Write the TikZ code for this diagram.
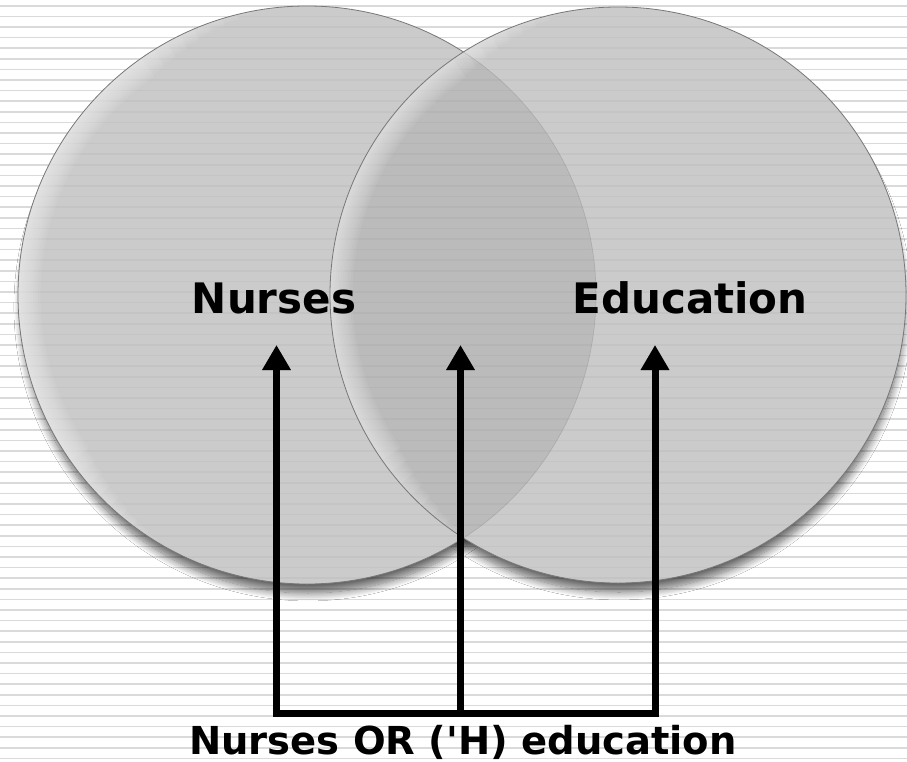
\documentclass[tikz,border=0pt]{standalone}
\usepackage{fontspec}
\setmainfont{DejaVu Sans}[Ligatures=TeXOff]
\usetikzlibrary{arrows.meta,shadows.blur}
\definecolor{circfill}{RGB}{203,203,203}
\definecolor{overfill}{RGB}{187,187,187}
\definecolor{circedge}{RGB}{120,120,120}
\definecolor{stripe}{RGB}{218,218,218}
\tikzset{
  vennshadow/.style={blur shadow={shadow scale=0.99, shadow xshift=1pt, shadow yshift=-12pt, shadow blur steps=14, shadow opacity=60, shadow blur radius=8pt}},
  vennfill/.style={fill=circfill},
  vennedge/.style={draw=circedge, line width=0.8pt},
  glow/.style={draw=white, opacity=0.07},
  lbl/.style={font=\bfseries\fontsize{42}{48}\selectfont, text=black, inner sep=0pt},
  qlbl/.style={font=\bfseries\fontsize{38.5}{44}\selectfont, text=black, inner sep=0pt},
  conn/.style={line width=7pt, draw=black, line join=miter},
  tip/.style={-{Triangle[width=27pt,length=25pt]}},
  tips/.style={{Triangle[width=27pt,length=25pt]}-{Triangle[width=27pt,length=25pt]}},
  connshadow/.style={line width=7pt, draw=black, opacity=0.25, line join=miter}
}
\begin{document}
\begin{tikzpicture}[x=1pt,y=-1pt]
\useasboundingbox (0,0) rectangle (907,762);
\fill[white] (0,0) rectangle (907,762);
\foreach \i in {0,...,72} {
  \fill[stripe] (0,{5+10.6*\i}) rectangle (907,{6.6+10.6*\i});
}
% shadows
\path[vennshadow] (307,295) circle[radius=289];
\path[vennshadow] (618,295) circle[radius=288];
% circles
\fill[vennfill] (307,295) circle[radius=289];
\fill[vennfill] (618,295) circle[radius=288];
\begin{scope}
  \clip (307,295) circle[radius=289];
  \fill[overfill] (618,295) circle[radius=288];
\end{scope}
% faint stripes inside circles
\begin{scope}
  \clip (307,295) circle[radius=289] (618,295) circle[radius=288];
  \foreach \i in {0,...,72} {
    \fill[black, opacity=0.03] (0,{5+10.6*\i}) rectangle (907,{6.6+10.6*\i});
  }
\end{scope}
% inner glow, left circle
\begin{scope}
  \clip (307,295) circle[radius=289];
  \foreach \k in {1,...,9} {
    \draw[glow, line width=5*\k pt] (307,295) ++({118+3*\k}:289) arc[start angle={118+3*\k}, end angle={262-3*\k}, radius=289];
  }
\end{scope}
% inner glow, right circle
\begin{scope}
  \clip (618,295) circle[radius=288];
  \foreach \k in {1,...,9} {
    \draw[glow, line width=5*\k pt] (618,295) ++({118+3*\k}:288) arc[start angle={118+3*\k}, end angle={262-3*\k}, radius=288];
  }
\end{scope}
% edges
\draw[vennedge] (618,295) circle[radius=288];
\begin{scope}[even odd rule]
  \clip (0,0) rectangle (907,762) (618,295) circle[radius=288];
  \draw[vennedge] (307,295) circle[radius=289];
\end{scope}
\begin{scope}
  \clip (618,295) circle[radius=288];
  \draw[draw=circedge, line width=0.6pt, opacity=0.3] (307,295) circle[radius=289];
\end{scope}
% labels
\node[lbl] (nurses) at (274,298) {Nurses};
\node[lbl] (educ) at (690,298) {Education};
\node[qlbl, anchor=base] (query) at (463,754) {Nurses OR ('H) education};
% connectors
\coordinate (bl) at (276.5,713);
\coordinate (bm) at (460.5,713);
\coordinate (br) at (655,713);
\coordinate (tl) at (276.5,345);
\coordinate (tm) at (460.5,345);
\coordinate (tr) at (655,345);
\begin{scope}[xshift=2pt,yshift=-3pt]
  \draw[connshadow, tips] (tl) -- (bl) -- (br) -- (tr);
  \draw[connshadow, tip] (bm) -- (tm);
\end{scope}
\draw[conn, tips] (tl) -- (bl) -- (br) -- (tr);
\draw[conn, tip] (bm) -- (tm);
\end{tikzpicture}
\end{document}
